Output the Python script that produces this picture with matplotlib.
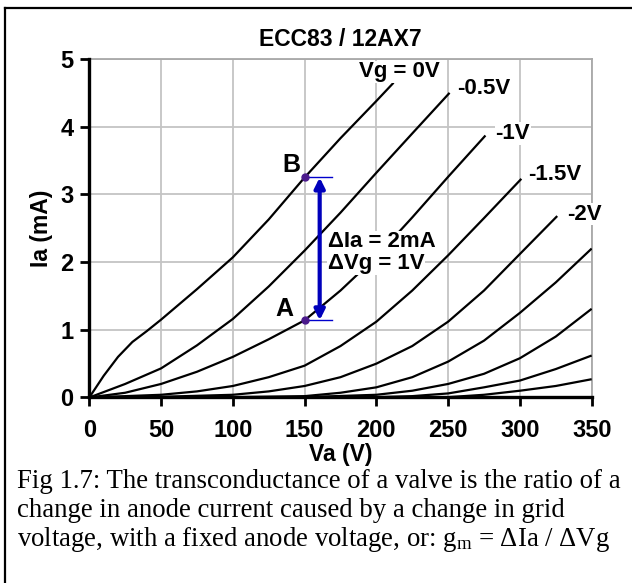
import matplotlib.pyplot as plt
import matplotlib.lines as mlines

plt.rcParams['font.family'] = ['Liberation Sans', 'DejaVu Sans']
plt.rcParams['mathtext.fontset'] = 'custom'
plt.rcParams['mathtext.rm'] = 'Liberation Serif'
plt.rcParams['mathtext.it'] = 'Liberation Serif'

# Anode characteristics of the ECC83 / 12AX7, one curve per grid voltage
grid_volts = [0, -0.5, -1, -1.5, -2, -2.5, -3, -3.5, -4]
va_0 = [0, 10, 20, 30, 40, 50, 75, 100, 125, 150, 175, 200, 212]
ia_0 = [0, 0.32, 0.6, 0.82, 0.98, 1.15, 1.6, 2.07, 2.63, 3.25, 3.83, 4.38, 4.65]
va_05 = [0, 25, 50, 75, 100, 125, 150, 175, 200, 225, 251]
ia_05 = [0, 0.2, 0.43, 0.77, 1.16, 1.64, 2.17, 2.73, 3.32, 3.9, 4.5]
va_1 = [0, 25, 50, 75, 100, 125, 150, 175, 200, 225, 250, 276]
ia_1 = [0, 0.07, 0.2, 0.38, 0.6, 0.86, 1.14, 1.58, 2.08, 2.66, 3.26, 3.87]
va_15 = [0, 50, 75, 100, 125, 150, 175, 200, 225, 250, 275, 301]
ia_15 = [0, 0.04, 0.09, 0.17, 0.3, 0.47, 0.76, 1.12, 1.58, 2.1, 2.65, 3.23]
va_2 = [0, 50, 100, 125, 150, 175, 200, 225, 250, 275, 300, 326]
ia_2 = [0, 0.01, 0.04, 0.09, 0.17, 0.3, 0.5, 0.76, 1.12, 1.58, 2.12, 2.68]
va_25 = [0, 100, 150, 175, 200, 225, 250, 275, 300, 325, 350]
ia_25 = [0, 0.005, 0.02, 0.07, 0.15, 0.3, 0.53, 0.84, 1.25, 1.7, 2.2]
va_3 = [0, 150, 200, 225, 250, 275, 300, 325, 350]
ia_3 = [0, 0.005, 0.04, 0.1, 0.2, 0.35, 0.58, 0.9, 1.31]
va_35 = [0, 200, 225, 250, 275, 300, 325, 350]
ia_35 = [0, 0.005, 0.02, 0.06, 0.15, 0.25, 0.42, 0.62]
va_4 = [0, 250, 275, 300, 325, 350]
ia_4 = [0, 0.005, 0.04, 0.1, 0.17, 0.27]

curves = [(va_0, ia_0), (va_05, ia_05), (va_1, ia_1), (va_15, ia_15), (va_2, ia_2),
          (va_25, ia_25), (va_3, ia_3), (va_35, ia_35), (va_4, ia_4)]

curve_labels = ['Vg = 0V', '-0.5V', '-1V', '-1.5V', '-2V']
label_pos = [(188, 4.81), (256, 4.56), (283, 3.90), (306, 3.30), (333, 2.71)]

# operating points used for the transconductance example
va_ab = 150
ia_a = 1.14
ia_b = 3.25
arrow_va = 160.5

fig = plt.figure(figsize=(6.32, 5.83), dpi=100)
ax = fig.add_axes([0.1413, 0.3182, 0.7949, 0.5806])

for va, ia in curves:
    ax.plot(va, ia, color='black', lw=1.6, zorder=3, solid_capstyle='butt')

ax.set_xlim(0, 350)
ax.set_ylim(0, 5)
ax.set_xticks(range(0, 351, 50))
ax.set_yticks(range(0, 6))
ax.grid(True, color='#c4c4c4', lw=1.3)
ax.set_axisbelow(True)

for side in ['top', 'right']:
    ax.spines[side].set_color('#a8a8a8')
    ax.spines[side].set_linewidth(1.3)
for side in ['left', 'bottom']:
    ax.spines[side].set_linewidth(2.4)
    ax.spines[side].set_zorder(4)
ax.tick_params(direction='out', length=6.5, width=2, labelsize=17)
ax.tick_params(axis='x', pad=9)
ax.tick_params(axis='y', pad=5)
for lab in ax.get_xticklabels() + ax.get_yticklabels():
    lab.set_fontweight('bold')

ax.set_title('ECC83 / 12AX7', fontsize=16.5, fontweight='bold', pad=9)
ax.set_xlabel('Va (V)', fontsize=16.5, fontweight='bold', labelpad=1)
ax.set_ylabel('Ia (mA)', fontsize=16.5, fontweight='bold', labelpad=5)

for text, (x, y) in zip(curve_labels, label_pos):
    ax.text(x, y, text, ha='left', va='center', fontsize=16, fontweight='bold',
            zorder=6, clip_on=False,
            bbox=dict(facecolor='white', edgecolor='none', pad=0.5))

# delta arrow between A and B
ax.plot([va_ab, 169], [ia_a, ia_a], color='#0000cc', lw=1, zorder=5)
ax.plot([va_ab, 169], [ia_b, ia_b], color='#0000cc', lw=1, zorder=5)
ax.annotate('', xy=(arrow_va, ia_b), xytext=(arrow_va, ia_a),
            arrowprops=dict(arrowstyle='<|-|>,head_length=0.6,head_width=0.3',
                            color='#0000bb', lw=3, shrinkA=0, shrinkB=0),
            zorder=5)
ax.plot([va_ab, va_ab], [ia_a, ia_b], 'o', color='#4b1a8c', ms=5, zorder=7, clip_on=False)
ax.text(136, 1.31, 'A', ha='center', va='center', fontsize=18, fontweight='bold', zorder=7)
ax.text(141, 3.44, 'B', ha='center', va='center', fontsize=18, fontweight='bold', zorder=7)

ax.text(166, 2.30, '\u0394Ia = 2mA', ha='left', va='center', fontsize=16,
        fontweight='bold', zorder=6,
        bbox=dict(facecolor='white', edgecolor='none', pad=0.5))
ax.text(166, 1.98, '\u0394Vg = 1V', ha='left', va='center', fontsize=16,
        fontweight='bold', zorder=6,
        bbox=dict(facecolor='white', edgecolor='none', pad=0.5))

# caption below the chart
caption = ['Fig 1.7: The transconductance of a valve is the ratio of a',
           'change in anode current caused by a change in grid',
           'voltage, with a fixed anode voltage, or: $\\mathrm{g_m}$ = \u0394Ia / \u0394Vg']
for i, line in enumerate(caption):
    fig.text(17 / 632, 1 - (488 + 29 * i) / 583, line, ha='left', va='baseline',
             fontsize=19.3, family='Liberation Serif')

# frame around the figure (only left and top edges fall inside the image)
fig.add_artist(mlines.Line2D([5 / 632, 5 / 632], [0, 1 - 8 / 583],
                             transform=fig.transFigure, color='black', lw=1.6))
fig.add_artist(mlines.Line2D([5 / 632, 1], [1 - 8 / 583, 1 - 8 / 583],
                             transform=fig.transFigure, color='black', lw=1.6))

fig.savefig('out.png', dpi=100)
